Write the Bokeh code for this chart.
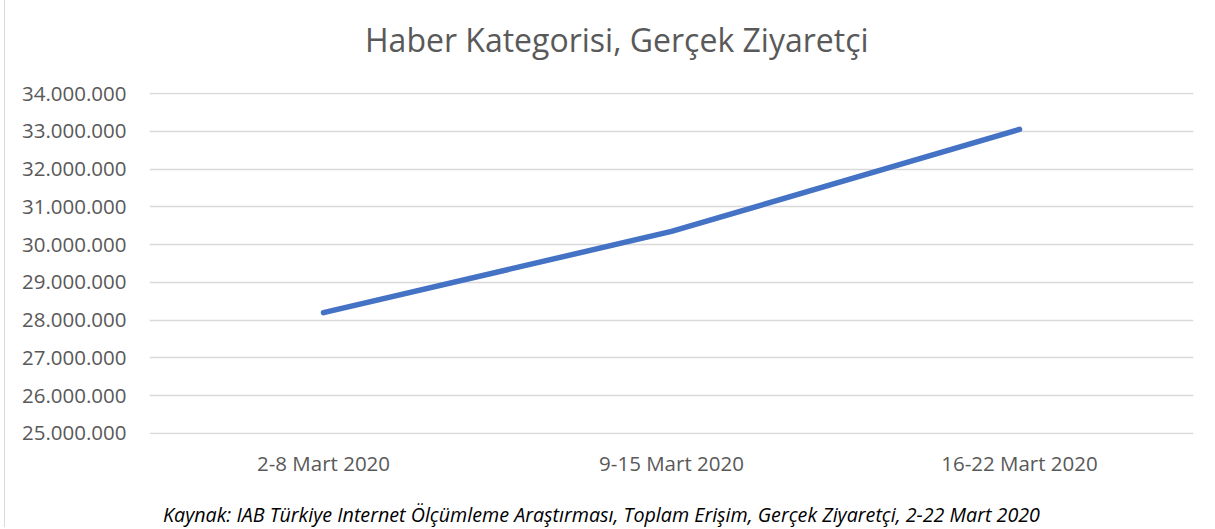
from bokeh.plotting import figure
from bokeh.models import Range1d, FactorRange, FixedTicker, Div
from bokeh.layouts import column
from bokeh.embed import file_html
from bokeh.resources import INLINE

title = "Haber Kategorisi, Gerçek Ziyaretçi"
source_note = "Kaynak: IAB Türkiye Internet Ölçümleme Araştırması, Toplam Erişim, Gerçek Ziyaretçi, 2-22 Mart 2020"
categories = ["2-8 Mart 2020", "9-15 Mart 2020", "16-22 Mart 2020"]
visitors = [28200000, 30350000, 33050000]
y_ticks = [25000000, 26000000, 27000000, 28000000, 29000000, 30000000,
           31000000, 32000000, 33000000, 34000000]
y_tick_labels = ["25.000.000", "26.000.000", "27.000.000", "28.000.000", "29.000.000",
                 "30.000.000", "31.000.000", "32.000.000", "33.000.000", "34.000.000"]

W = 1205
HEAD_H, FIG_H, FOOT_H = 70, 414, 43
pad = 26500

head = Div(text=(f'<div style="font-family:\'Open Sans\';font-size:32px;color:#595959;'
                 f'line-height:1;white-space:nowrap;margin:0;padding:24px 0 0 360px;">{title}</div>'),
           width=W, height=HEAD_H, styles={"margin": "0", "padding": "0"})

fig = figure(width=W, height=FIG_H, x_range=FactorRange(*categories, range_padding=0),
             y_range=Range1d(y_ticks[0] - pad, y_ticks[-1] + pad),
             output_backend="svg", toolbar_location=None,
             min_border_left=144, min_border_right=17,
             min_border_top=22, min_border_bottom=50)
fig.outline_line_color = None
fig.background_fill_color = "white"
fig.border_fill_color = "white"

fig.line(categories, visitors, line_color="#4472C4", line_width=5.5, line_cap="round", line_join="round")

fig.yaxis.ticker = FixedTicker(ticks=y_ticks)
fig.yaxis.major_label_overrides = {t: l for t, l in zip(y_ticks, y_tick_labels)}
for ax in (fig.xaxis, fig.yaxis):
    ax.axis_line_color = None
    ax.major_tick_line_color = None
    ax.minor_tick_line_color = None
    ax.major_label_text_color = "#595959"
    ax.major_label_text_font = "Open Sans"
    ax.major_label_text_font_size = "20.5px"
fig.yaxis.major_label_standoff = 17
fig.xaxis.major_label_standoff = 8

fig.xgrid.grid_line_color = None
fig.ygrid.grid_line_color = "#d9d9d9"
fig.ygrid.grid_line_width = 1.5

foot = Div(text=(f'<div style="font-family:\'Open Sans\';font-style:italic;font-size:19.7px;color:#000000;'
                 f'line-height:1;white-space:nowrap;margin:0;padding:21px 0 0 158px;">{source_note}</div>'),
           width=W, height=FOOT_H, styles={"margin": "0", "padding": "0"})

p = column(head, fig, foot, spacing=0)
p.styles = {"margin-left": "4px", "border-left": "1px solid #d9d9d9"}

open("out.html", "w").write(file_html(p, INLINE))
